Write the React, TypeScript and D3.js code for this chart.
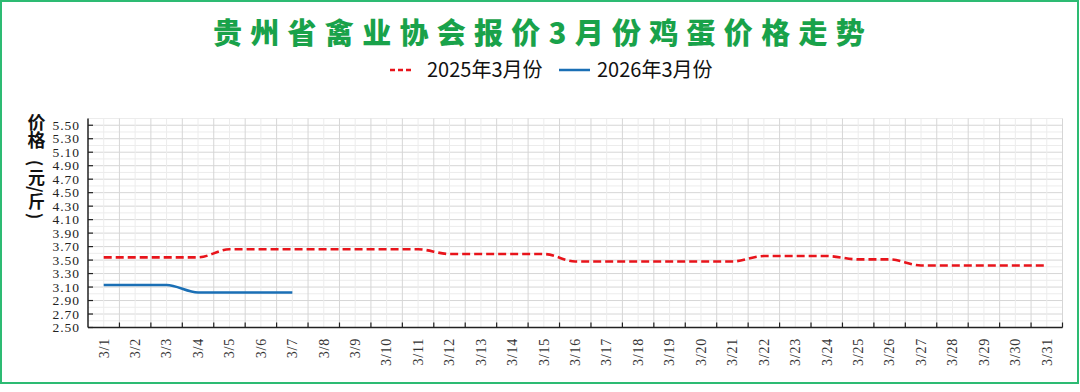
import React from "react";
import * as d3 from "d3";

const title = "贵州省禽业协会报价3月份鸡蛋价格走势";
const seriesNames = ["2025年3月份", "2026年3月份"];
const days = Array.from({ length: 31 }, (_, i) => `3/${i + 1}`);
const prices2025 = [
  3.54, 3.54, 3.54, 3.54, 3.66, 3.66, 3.66, 3.66, 3.66, 3.66, 3.66,
  3.59, 3.59, 3.59, 3.59, 3.48, 3.48, 3.48, 3.48, 3.48, 3.48,
  3.56, 3.56, 3.56, 3.51, 3.51, 3.42, 3.42, 3.42, 3.42, 3.42,
];
const prices2026 = [3.13, 3.13, 3.13, 3.02, 3.02, 3.02, 3.02];
const yTicks = [2.5, 2.7, 2.9, 3.1, 3.3, 3.5, 3.7, 3.9, 4.1, 4.3, 4.5, 4.7, 4.9, 5.1, 5.3, 5.5];
const yAxisTitleHead = "价格";
const yAxisTitleUnit = "元/斤";
const yAxisParens = ["(", ")"];

const W = 1080, H = 392;
const left = 88, right = 1062.5, top = 118.5, bottom = 327.5;

export default function App() {
  const x = d3.scaleBand<string>().domain(days).range([left, right]).padding(0);
  const y = d3.scaleLinear().domain([2.5, 5.6]).range([bottom, top]);
  const cx = (d: string) => (x(d) as number) + x.bandwidth() / 2;

  const line = d3
    .line<number>()
    .x((_, i) => cx(days[i]))
    .y((v) => y(v))
    .curve(d3.curveMonotoneX);

  const minorY = d3.range(26, 57).map((v) => v / 10);
  const halfX: number[] = [];
  for (let i = 0; i <= days.length * 2; i++) halfX.push(left + (i * x.bandwidth()) / 2);

  const parenYs = [163, 216];
  const green = "#19a24a";

  return (
    <svg width={W} height={H} style={{ position: "absolute", left: 0, top: 0, background: "#fff" }}>
      <rect x={1} y={1} width={1077} height={382} fill="#fff" stroke="#2dbb73" strokeWidth={2} />
      <text
        x={543}
        y={44}
        textAnchor="middle"
        fill={green}
        fontFamily="'Noto Sans CJK SC', sans-serif"
        fontWeight={900}
        fontSize={29}
        letterSpacing={8.3}
      >
        {title}
      </text>
      {/* legend */}
      <line x1={390} x2={412} y1={70} y2={70} stroke="#e8141b" strokeWidth={2.5} strokeDasharray="5,3" />
      <text x={427} y={77} fontFamily="'Noto Sans CJK SC', sans-serif" fontSize={20} fill="#111">
        {seriesNames[0]}
      </text>
      <line x1={559} x2={590} y1={70} y2={70} stroke="#1a6fb5" strokeWidth={2.5} />
      <text x={597} y={77} fontFamily="'Noto Sans CJK SC', sans-serif" fontSize={20} fill="#111">
        {seriesNames[1]}
      </text>

      {/* grid */}
      {minorY.map((v, i) => (
        <line key={"hy" + i} x1={left} x2={right} y1={y(v)} y2={y(v)}
          stroke={Math.round(v * 10) % 2 === 1 ? "#d6d6d6" : "#ececec"} strokeWidth={1} />
      ))}
      {halfX.map((xv, i) => (
        i === 0 ? null :
        <line key={"vx" + i} x1={xv} x2={xv} y1={top} y2={bottom}
          stroke={i % 2 === 0 ? "#d6d6d6" : "#ececec"} strokeWidth={1} />
      ))}

      {/* axes */}
      <line x1={left} x2={left} y1={top} y2={bottom} stroke="#222" strokeWidth={1.5} />
      <line x1={left} x2={right} y1={bottom} y2={bottom} stroke="#222" strokeWidth={1.5} />
      {yTicks.map((t) => (
        <g key={"yt" + t}>
          <line x1={left} x2={left + 5} y1={y(t)} y2={y(t)} stroke="#222" strokeWidth={1.2} />
          <text x={79} y={y(t) + 4.5} textAnchor="end" fontFamily="'Liberation Serif', serif" fontSize={13.5}
            fill="#222" textLength={26.5} lengthAdjust="spacing">
            {t.toFixed(2)}
          </text>
        </g>
      ))}
      {days.map((d, i) => (
        <g key={"xt" + d}>
          <line x1={(x(d) as number) + x.bandwidth()} x2={(x(d) as number) + x.bandwidth()} y1={bottom} y2={bottom - 5}
            stroke="#222" strokeWidth={1.2} />
          <text transform={`translate(${cx(d) + 4.8},${338}) rotate(-90)`} textAnchor="end"
            fontFamily="'Liberation Serif', serif" fontSize={14} letterSpacing={0.8} fill="#333">
            {d}
          </text>
        </g>
      ))}

      {/* y axis title */}
      <text x={36.5} y={113.5} style={{ writingMode: "vertical-rl" }}
        fontFamily="'Noto Sans CJK SC', sans-serif" fontWeight={700} fontSize={18} fill="#111">
        {yAxisTitleHead}
      </text>
      <text x={36.5} y={169} style={{ writingMode: "vertical-rl" }}
        fontFamily="'Noto Sans CJK SC', sans-serif" fontWeight={700} fontSize={17} fill="#111">
        {yAxisTitleUnit}
      </text>
      {yAxisParens.map((c, i) => (
        <text key={"yap" + i} transform={`translate(36.5,${parenYs[i]}) rotate(90)`}
          textAnchor="middle" dominantBaseline="central"
          fontFamily="'Noto Sans CJK SC', sans-serif" fontWeight={700} fontSize={17} fill="#111">
          {c}
        </text>
      ))}

      {/* series */}
      <path d={line(prices2025) || ""} fill="none" stroke="#e8141b" strokeWidth={2.6} strokeDasharray="8,4" />
      <path d={line(prices2026) || ""} fill="none" stroke="#1a6fb5" strokeWidth={2.6} />
    </svg>
  );
}
